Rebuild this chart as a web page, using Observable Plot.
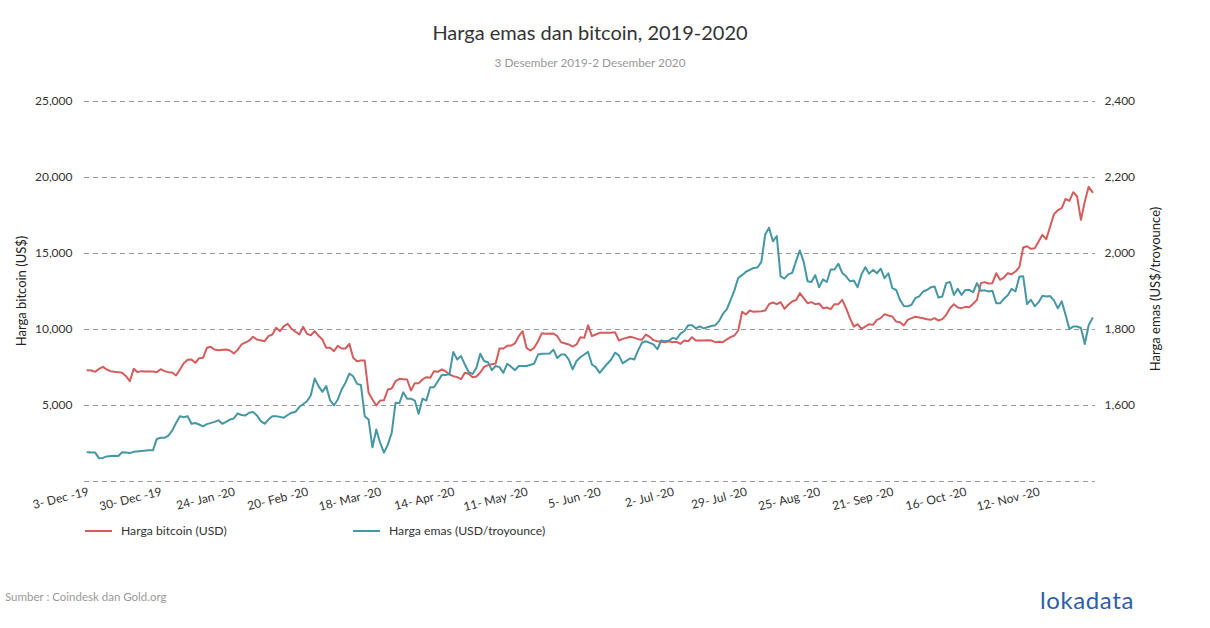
<!DOCTYPE html>
<html>
<head>
<meta charset="utf-8">
<script src="https://cdn.jsdelivr.net/npm/d3@7"></script>
<script src="https://cdn.jsdelivr.net/npm/@observablehq/plot@0.6"></script>
<style>
  body { margin: 0; background: #fff; font-family: Lato, "Open Sans", sans-serif; }
  #wrap { position: relative; width: 1210px; height: 628px; overflow: hidden; background: #fff; }
  #chart { position: absolute; left: 0; top: 0; }
  .abs { position: absolute; white-space: nowrap; }
  #title { top: 20px; left: 0; width: 1180px; text-align: center; font-size: 20px; color: #333; }
  #subtitle { top: 55px; left: 0; width: 1180px; text-align: center; font-size: 11.8px; color: #999; }
  .ytitle { font-size: 13px; color: #222; transform-origin: center center; }
  .leg { top: 523px; font-size: 12.2px; color: #333; }
  .leg span.sw { display: inline-block; width: 27px; height: 2px; vertical-align: middle; margin-right: 9px; position: relative; top: -1px; }
  #source { left: 5px; top: 590px; font-size: 11.5px; color: #999; }
  #logo { left: 1040px; top: 585px; font-size: 24px; color: #2d5ea8; letter-spacing: 0.6px; }
</style>
</head>
<body>
<div id="wrap">
  <div id="title" class="abs">Harga emas dan bitcoin, 2019-2020</div>
  <div id="subtitle" class="abs">3 Desember 2019-2 Desember 2020</div>
  <div id="chart"></div>
  <div class="abs ytitle" id="ylL">Harga bitcoin (US$)</div>
  <div class="abs ytitle" id="ylR">Harga emas (US$/troyounce)</div>
  <div class="abs leg" style="left:85px"><span class="sw" style="background:#d45c5c"></span>Harga bitcoin (USD)</div>
  <div class="abs leg" style="left:353px"><span class="sw" style="background:#4597a3"></span>Harga emas (USD/troyounce)</div>
  <div id="source" class="abs">Sumber : Coindesk dan Gold.org</div>
  <div id="logo" class="abs">lokadata</div>
</div>
<script>
// x = trading-day index (weekdays from 3 Dec 2019 to 2 Dec 2020)
const tickDay = [0, 19, 38, 57, 76, 95, 114, 133, 152, 171, 190, 209, 228, 247];
const tickLabel = ["3- Dec -19", "30- Dec -19", "24- Jan -20", "20- Feb -20", "18- Mar -20", "14- Apr -20",
  "11- May -20", "5- Jun -20", "2- Jul -20", "29- Jul -20", "25- Aug -20", "21- Sep -20", "16- Oct -20", "12- Nov -20"];

const btcDay = [0,1,2,3,4,5,6,7,8,9,10,11,12,13,14,15,17,18,19,20,21,22,23,24,25,26,27,28,29,30,31,32,33,34,36,37,38,39,40,42,43,44,46,47,48,49,50,51,52,53,55,56,57,58,59,60,61,62,63,64,65,66,67,68,69,70,71,72,73,74,75,76,77,78,79,80,81,82,83,84,85,86,87,88,89,90,91,92,93,94,95,96,97,98,99,100,101,102,103,104,105,106,107,108,109,110,111,112,113,114,115,116,117,118,119,121,122,123,125,126,127,128,129,130,131,132,133,135,136,137,138,139,141,142,143,144,145,146,147,148,150,151,152,153,154,155,156,157,158,160,161,162,163,164,165,166,167,168,169,170,171,172,173,175,176,177,178,179,180,181,182,183,184,185,186,187,188,189,190,191,192,193,194,195,196,197,198,199,200,201,202,203,204,205,206,207,208,209,210,211,212,213,214,215,217,218,219,220,221,222,223,224,225,226,227,228,229,230,231,232,233,234,235,236,237,238,239,240,241,242,243,244,245,246,247,248,249,250,251,252,253,254,255,256,257,258,259,260,261];
const btcUsd = [7325,7300,7215,7410,7545,7370,7260,7215,7195,7150,6930,6600,7410,7195,7260,7235,7235,7195,7390,7260,7195,7170,6975,7370,7785,8005,8025,7805,8115,8135,8795,8860,8685,8640,8685,8620,8420,8660,9015,9275,9520,9340,9230,9560,9670,10110,9890,10220,10375,10045,9670,10175,9715,9625,9890,9585,9340,8795,8795,8575,8925,8750,8750,9055,8135,7915,7960,7960,5835,5395,5000,5330,5350,6055,6120,6600,6755,6730,6710,5985,6470,6470,6710,6865,6820,7260,7215,7370,7260,7040,6930,6865,6730,7150,7085,6865,6910,7170,7545,7655,7720,7765,8750,8750,8925,8945,9080,9560,9890,8795,8620,8795,9230,9760,9715,9735,9560,9165,9015,8880,9015,9495,9450,10285,9560,9670,9780,9780,9780,9825,9275,9385,9520,9450,9365,9320,9670,9520,9300,9230,9165,9230,9165,9190,9055,9275,9230,9495,9275,9275,9300,9275,9165,9190,9165,9340,9495,9605,9935,11160,10985,11250,11160,11205,11250,11665,11775,11665,11800,11360,11625,11840,11930,12390,12060,11730,11800,11665,11710,11405,11445,11340,11665,11665,11950,11405,10745,10195,10350,10045,10195,10350,10305,10635,10745,11010,10920,10855,10525,10480,10265,10635,10745,10835,10745,10680,10635,10745,10590,10680,10965,11405,11665,11445,11405,11490,11470,11690,11950,13050,13115,13025,13050,13705,13270,13420,13705,13640,13815,14100,15395,15480,15305,15350,15790,16230,15945,16775,17590,17850,17980,18595,18465,19035,18750,17215,18420,19385,19035];

const goldDay = [0,1,2,3,4,5,7,8,9,10,11,12,14,16,17,18,19,20,21,22,23,24,25,26,27,28,29,30,31,33,34,35,36,37,38,39,40,41,42,43,44,45,46,47,48,49,51,52,53,54,55,57,58,59,60,61,62,63,64,65,66,67,68,69,70,71,72,73,74,75,76,77,78,79,80,81,82,83,84,85,86,87,88,89,90,92,93,94,95,96,97,98,99,100,101,102,103,104,105,106,107,108,109,110,111,112,113,114,116,117,118,120,121,122,123,124,125,126,127,128,130,131,132,133,134,135,136,137,138,139,140,141,142,143,144,145,147,148,149,150,151,152,153,154,155,156,157,158,159,160,161,162,163,164,165,166,167,168,169,170,171,173,174,175,176,177,178,179,180,181,182,183,184,185,186,187,188,189,190,191,192,193,194,195,196,197,198,199,200,201,202,203,204,205,206,207,208,209,210,211,212,213,214,215,216,217,218,219,220,221,222,223,224,225,226,227,228,229,230,231,232,233,234,235,236,237,238,239,240,241,242,243,244,245,246,247,248,249,250,251,252,253,254,255,256,257,258,259,260,261];
const goldUsd = [1477,1476,1476,1461,1462,1466,1468,1467,1477,1476,1475,1478,1480,1482,1482,1512,1515,1515,1521,1534,1554,1572,1569,1572,1552,1554,1550,1545,1551,1557,1561,1552,1557,1563,1566,1579,1575,1574,1581,1583,1574,1559,1552,1563,1572,1572,1568,1575,1581,1583,1596,1611,1627,1671,1651,1636,1651,1614,1600,1616,1642,1660,1684,1677,1657,1654,1572,1563,1490,1537,1502,1476,1497,1528,1607,1606,1635,1618,1618,1613,1578,1618,1613,1648,1648,1680,1680,1683,1741,1721,1730,1708,1688,1683,1699,1736,1717,1714,1693,1704,1701,1686,1710,1702,1693,1704,1704,1704,1710,1734,1736,1737,1747,1725,1734,1734,1721,1695,1717,1727,1741,1708,1701,1686,1698,1710,1721,1739,1732,1711,1718,1724,1721,1745,1765,1769,1761,1748,1771,1769,1771,1778,1775,1789,1796,1811,1811,1803,1808,1803,1806,1809,1811,1822,1841,1853,1877,1903,1936,1943,1952,1962,1963,1978,2050,2068,2032,2046,1940,1934,1945,1949,1980,2008,1978,1927,1925,1943,1911,1932,1925,1958,1958,1973,1949,1940,1927,1929,1911,1945,1964,1947,1957,1948,1960,1935,1948,1909,1904,1878,1862,1861,1865,1883,1887,1900,1904,1911,1913,1884,1887,1922,1925,1891,1907,1891,1904,1904,1898,1922,1902,1903,1900,1902,1869,1869,1881,1890,1907,1900,1939,1940,1867,1878,1861,1872,1889,1887,1888,1876,1856,1874,1839,1801,1808,1808,1804,1762,1811,1830];

const leftTicks = [5000, 10000, 15000, 20000, 25000];
const gridVals = [0, 5000, 10000, 15000, 20000, 25000];
const goldBase = 1400, goldScale = 25; // gold axis 1,400–2,400 aligned to bitcoin 0–25,000

const btcData = btcDay.map((d, i) => ({day: d, v: btcUsd[i]}));
const goldData = goldDay.map((d, i) => ({day: d, v: (goldUsd[i] - goldBase) * goldScale}));
const fmt = d3.format(",");

const chart = Plot.plot({
  width: 1210,
  height: 628,
  marginTop: 101,
  marginBottom: 147,
  marginLeft: 87,
  marginRight: 118,
  style: {fontFamily: "Lato, 'Open Sans', sans-serif", fontSize: "12px", color: "#333", background: "transparent"},
  x: {domain: [0, 261], axis: null},
  y: {domain: [0, 25000], axis: null},
  marks: [
    Plot.ruleY(gridVals, {stroke: "#9a9a9a", strokeWidth: 1, strokeDasharray: "5,4", insetLeft: -3, insetRight: -3}),
    Plot.axisY({anchor: "left", ticks: leftTicks, tickSize: 0, tickPadding: 15, tickFormat: fmt, label: null, fontSize: 12}),
    Plot.axisY({anchor: "right", ticks: leftTicks, tickSize: 0, tickPadding: 12, tickFormat: d => fmt(d / goldScale + goldBase), label: null, fontSize: 12}),
    Plot.text(tickDay, {x: d => d, frameAnchor: "bottom", dy: 10, dx: 1, rotate: -14, textAnchor: "end", lineAnchor: "middle",
      text: (d, i) => tickLabel[i], fill: "#333", fontSize: 12}),
    Plot.line(btcData, {x: "day", y: "v", stroke: "#d45c5c", strokeWidth: 2, strokeLinejoin: "round"}),
    Plot.line(goldData, {x: "day", y: "v", stroke: "#4597a3", strokeWidth: 2, strokeLinejoin: "round"})
  ]
});
document.getElementById("chart").appendChild(chart);

// place rotated axis titles
function placeRot(id, cx, cy) {
  const el = document.getElementById(id);
  const w = el.offsetWidth, h = el.offsetHeight;
  el.style.left = (cx - w / 2) + "px";
  el.style.top = (cy - h / 2) + "px";
  el.style.transform = "rotate(-90deg)";
}
placeRot("ylL", 21, 291);
placeRot("ylR", 1155, 289);
</script>
</body>
</html>
